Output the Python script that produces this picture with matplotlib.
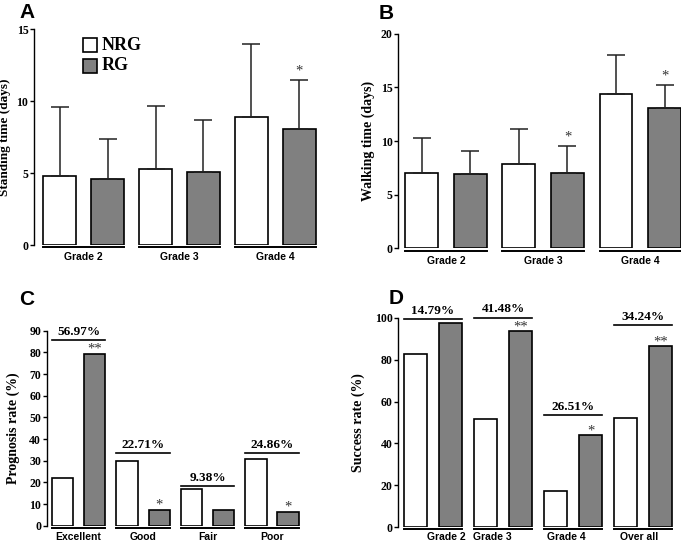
import matplotlib
matplotlib.use("Agg")
import matplotlib.pyplot as plt
import matplotlib.transforms as mtransforms
from matplotlib.patches import Rectangle

SERIF = "Liberation Serif"
SANS = "Liberation Sans"
GRAY = "#808080"

# ---- panel A: standing time
grades_a = ["Grade 2", "Grade 3", "Grade 4"]
stand_nrg = [4.8, 5.3, 8.9]
stand_nrg_sd = [4.8, 4.4, 5.1]
stand_rg = [4.6, 5.1, 8.1]
stand_rg_sd = [2.8, 3.6, 3.4]
stand_stars = ["", "", "*"]

# ---- panel B: walking time
walk_nrg = [7.0, 7.9, 14.4]
walk_nrg_sd = [3.25, 3.2, 3.65]
walk_rg = [6.9, 7.0, 13.1]
walk_rg_sd = [2.2, 2.5, 2.1]
walk_stars = ["", "*", "*"]

# ---- panel C: prognosis rate
prog_cats = ["Excellent", "Good", "Fair", "Poor"]
prog_nrg = [22.2, 30.0, 16.8, 30.9]
prog_rg = [79.1, 7.4, 7.4, 6.3]
prog_stars = ["**", "*", "", "*"]
prog_diff = ["56.97%", "22.71%", "9.38%", "24.86%"]
prog_bracket = [85.7, 33.7, 18.3, 33.7]

# ---- panel D: success rate
succ_cats = ["Grade 2", "Grade 3", "Grade 4", "Over all"]
succ_nrg = [82.6, 51.8, 17.1, 52.3]
succ_rg = [97.4, 93.6, 43.9, 86.7]
succ_stars = ["", "**", "*", "**"]
succ_diff = ["14.79%", "41.48%", "26.51%", "34.24%"]
succ_bracket = [99.4, 100.2, 53.6, 96.7]

W, H = 681, 543
fig = plt.figure(figsize=(W / 100, H / 100), dpi=100)


def px_axes(left, right, bottom, top):
    # pixel box (y from top) -> figure axes
    return fig.add_axes([left / W, 1 - bottom / H, (right - left) / W, (bottom - top) / H])


def panel(ax, cats, nrg, rg, nrg_sd, rg_sd, stars, ylim, yticks, ylabel,
          xlim, width, label_pad, lab_off=None, star_pts=4, diffs=None, brackets=None,
          ylabel_size=10):
    off = 0.5
    x = list(range(len(cats)))
    x_rg = [i + off for i in x]
    kw = dict(width=width, edgecolor="black", linewidth=1.2, zorder=2)
    ekw = dict(elinewidth=1.1, capsize=6.5, capthick=1.1, ecolor="#222222")
    if nrg_sd is not None:
        ax.bar(x, nrg, color="white", yerr=[[0] * len(x), nrg_sd], error_kw=ekw, **kw)
        ax.bar(x_rg, rg, color=GRAY, yerr=[[0] * len(x), rg_sd], error_kw=ekw, **kw)
        tops = [v + s for v, s in zip(rg, rg_sd)]
    else:
        ax.bar(x, nrg, color="white", **kw)
        ax.bar(x_rg, rg, color=GRAY, **kw)
        tops = rg
    for xi, t, s in zip(x_rg, tops, stars):
        if s:
            ax.annotate(s, (xi, t), xytext=(0, star_pts), textcoords="offset points",
                        ha="center", va="baseline", fontsize=10.5, family=SERIF, color="#333333")
    if diffs is not None:
        for xi, b, d in zip(x, brackets, diffs):
            ax.plot([xi - width / 2, xi + off + width / 2], [b, b], color="black",
                    lw=1.2, clip_on=False)
            ax.annotate(d, (xi + off / 2, b), xytext=(0, 1.5), textcoords="offset points",
                        ha="center", va="bottom", fontsize=9.5, fontweight="bold",
                        family=SERIF, annotation_clip=False)
    trans = mtransforms.blended_transform_factory(ax.transData, ax.transAxes)
    if lab_off is None:
        lab_off = [0] * len(cats)
    for xi, c, lo in zip(x, cats, lab_off):
        ax.plot([xi - width / 2, xi + off + width / 2], [-0.011, -0.011], color="black",
                lw=1.4, transform=trans, clip_on=False)
        ax.annotate(c, (xi + off / 2 + lo, 0), xycoords=trans, xytext=(0, -label_pad),
                    textcoords="offset points", ha="center", va="center",
                    fontsize=7.5, fontweight="bold", family=SANS, annotation_clip=False)
    ax.set_xlim(*xlim)
    ax.set_ylim(*ylim)
    ax.set_yticks(yticks)
    ax.set_xticks([])
    for sp in ["top", "right", "bottom"]:
        ax.spines[sp].set_visible(False)
    ax.spines["left"].set_linewidth(1.0)
    ax.tick_params(axis="y", length=3, width=1.0, pad=1)
    for t in ax.get_yticklabels():
        t.set_fontfamily(SERIF)
        t.set_fontweight("bold")
        t.set_fontsize(8.5)
    ax.set_ylabel(ylabel, fontsize=ylabel_size, fontweight="bold", family=SERIF)


axA = px_axes(34, 320, 245, 29.3)
panel(axA, grades_a, stand_nrg, stand_rg, stand_nrg_sd, stand_rg_sd, stand_stars,
      (0, 15), [0, 5, 10, 15], "Standing time (days)", (-0.266, 2.714), 0.34, 8.5,
      star_pts=4, ylabel_size=9.5)
axA.yaxis.set_label_coords(-0.082, 0.5)
# legend boxes
axA.add_patch(Rectangle((0.171, 0.895), 0.049, 0.065, transform=axA.transAxes,
                        facecolor="white", edgecolor="black", lw=1.2, clip_on=False))
axA.add_patch(Rectangle((0.171, 0.797), 0.049, 0.065, transform=axA.transAxes,
                        facecolor=GRAY, edgecolor="black", lw=1.2, clip_on=False))
axA.text(0.238, 0.927, "NRG", transform=axA.transAxes, va="center", ha="left",
         fontsize=13, fontweight="bold", family=SERIF)
axA.text(0.238, 0.830, "RG", transform=axA.transAxes, va="center", ha="left",
         fontsize=13, fontweight="bold", family=SERIF)

axB = px_axes(398.3, 681, 248.3, 33.7)
panel(axB, grades_a, walk_nrg, walk_rg, walk_nrg_sd, walk_rg_sd, walk_stars,
      (0, 20), [0, 5, 10, 15, 20], "Walking time (days)", (-0.244, 2.67), 0.34, 9.2,
      star_pts=4)
axB.yaxis.set_label_coords(-0.082, 0.5)

axC = px_axes(46.7, 305, 525.7, 330.7)
panel(axC, prog_cats, prog_nrg, prog_rg, None, None, prog_stars,
      (0, 90), list(range(0, 91, 10)), "Prognosis rate (%)", (-0.245, 3.76), 0.333, 8,
      star_pts=1, diffs=prog_diff, brackets=prog_bracket)
axC.yaxis.set_label_coords(-0.103, 0.5)

axD = px_axes(398.3, 678, 527, 318)
panel(axD, succ_cats, succ_nrg, succ_rg, None, None, succ_stars,
      (0, 100), [0, 20, 40, 60, 80, 100], "Success rate (%)", (-0.246, 3.75), 0.329, 7,
      lab_off=[0.19, -0.16, -0.09, -0.06], star_pts=0.5, diffs=succ_diff, brackets=succ_bracket)
axD.yaxis.set_label_coords(-0.119, 0.5)

for lab, px, py in [("A", 19, 3), ("B", 379, 4), ("C", 19, 290), ("D", 389, 289)]:
    fig.text(px / W, 1 - py / H, lab, ha="left", va="top", fontsize=15,
             fontweight="bold", family=SANS)

fig.savefig("out.png", dpi=100)
